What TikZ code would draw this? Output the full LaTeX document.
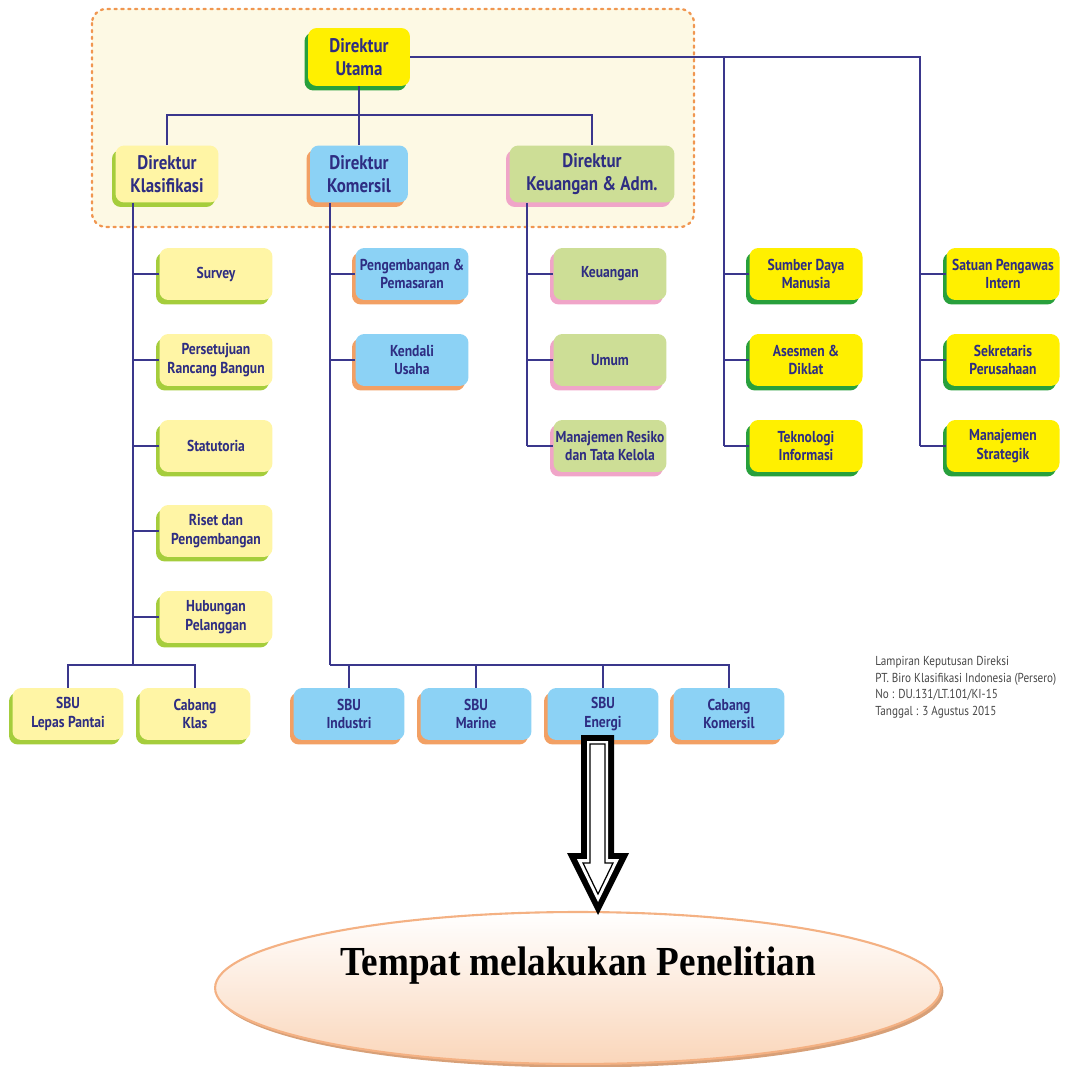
\documentclass[tikz,border=0pt]{standalone}
\usepackage{fontspec}
\setmainfont{Liberation Serif}
\newfontfamily\titlefont[FakeStretch=0.9]{Liberation Serif}
\newfontfamily\boxfont[FakeStretch=0.86]{PT Sans}
\usetikzlibrary{shadows,shapes.geometric}
\definecolor{linec}{RGB}{58,55,140}
\definecolor{txtc}{RGB}{46,45,130}
\definecolor{ybright}{RGB}{255,240,0}
\definecolor{gshadow}{RGB}{40,160,60}
\definecolor{ypale}{RGB}{255,245,165}
\definecolor{lgshadow}{RGB}{165,205,60}
\definecolor{bluec}{RGB}{140,210,245}
\definecolor{oshadow}{RGB}{242,160,100}
\definecolor{olivec}{RGB}{205,222,150}
\definecolor{pshadow}{RGB}{240,165,200}
\definecolor{framefill}{RGB}{253,249,228}
\definecolor{framedot}{RGB}{240,150,80}
\definecolor{ellline}{RGB}{244,177,131}
\definecolor{ellfill}{RGB}{250,214,186}
\definecolor{ellshadow}{RGB}{215,160,120}
\definecolor{notec}{RGB}{70,70,70}
\tikzset{
  box/.style={rounded corners=5pt, align=center, text=txtc, inner sep=1pt,
    font=\boxfont\bfseries\fontsize{9}{10.6}\selectfont},
  sub/.style={box, minimum width=2.26cm, minimum height=1.04cm},
  bot/.style={box, minimum width=2.22cm, minimum height=1.04cm},
  dir/.style={box, minimum height=1.14cm, font=\boxfont\bfseries\fontsize{11.2}{12.8}\selectfont},
  yb/.style={fill=ybright, general shadow={fill=gshadow, shadow xshift=-0.07cm, shadow yshift=-0.09cm}},
  yp/.style={fill=ypale, general shadow={fill=lgshadow, shadow xshift=-0.07cm, shadow yshift=-0.09cm}},
  bl/.style={fill=bluec, general shadow={fill=oshadow, shadow xshift=-0.07cm, shadow yshift=-0.09cm}},
  ol/.style={fill=olivec, general shadow={fill=pshadow, shadow xshift=-0.07cm, shadow yshift=-0.09cm}},
  conn/.style={draw=linec, line width=1.1pt}
}
\begin{document}
\begin{tikzpicture}[x=0.02cm,y=-0.02cm]
\useasboundingbox (0,0) rectangle (1068,1067);
% frame
\draw[fill=framefill, draw=framedot, line width=1.3pt, dash pattern=on 1.3pt off 2.6pt, line cap=round, rounded corners=8pt]
  (92,9) rectangle (694,227);

% directors
\node[dir, yb, minimum width=2.04cm, minimum height=1.16cm] (utama) at (359,57) {Direktur\\Utama};
\node[dir, yp, minimum width=2.06cm] (klas) at (167,174) {Direktur\\Klasifikasi};
\node[dir, bl, minimum width=1.96cm] (kom) at (359,174) {Direktur\\Komersil};
\node[dir, ol, minimum width=3.3cm] (keu) at (592,174) {Direktur\\Keuangan \& Adm.};

% junction coordinates
\coordinate (top) at (359,115);
\coordinate (ka) at (133,665);
\coordinate (kb) at (330,665);
\coordinate (kc) at (527,446);
\coordinate (kd) at (724,446);
\coordinate (ke) at (920,446);

% klasifikasi column
\node[sub, yp] (survey) at (216,274) {Survey};
\node[sub, yp] (rancang) at (216,360) {Persetujuan\\Rancang Bangun};
\node[sub, yp] (statut) at (216,446) {Statutoria};
\node[sub, yp] (riset) at (216,531) {Riset dan\\Pengembangan};
\node[sub, yp] (hub) at (216,617) {Hubungan\\Pelanggan};
\node[bot, yp] (lepas) at (68,714) {SBU\\Lepas Pantai};
\node[bot, yp] (cklas) at (195,714) {Cabang\\Klas};

% komersil column
\node[sub, bl] (pemasaran) at (412,274) {Pengembangan \&\\Pemasaran};
\node[sub, bl] (kendali) at (412,360) {Kendali\\Usaha};
\node[bot, bl] (industri) at (349,714) {SBU\\Industri};
\node[bot, bl] (marine) at (476,714) {SBU\\Marine};
\node[bot, bl] (energi) at (603,714) {SBU\\Energi};
\node[bot, bl] (ckom) at (729,714) {Cabang\\Komersil};

% keuangan column
\node[sub, ol] (keuangan) at (610,274) {Keuangan};
\node[sub, ol] (umum) at (610,360) {Umum};
\node[sub, ol] (resiko) at (610,446) {Manajemen Resiko\\dan Tata Kelola};

% sdm column
\node[sub, yb] (sdm) at (806,274) {Sumber Daya\\Manusia};
\node[sub, yb] (asesmen) at (806,360) {Asesmen \&\\Diklat};
\node[sub, yb] (ti) at (806,446) {Teknologi\\Informasi};

% spi column
\node[sub, yb] (spi) at (1003,274) {Satuan Pengawas\\Intern};
\node[sub, yb] (sekper) at (1003,360) {Sekretaris\\Perusahaan};
\node[sub, yb] (strat) at (1003,446) {Manajemen\\Strategik};

% connectors top
\draw[conn] (utama.south) -- (top);
\draw[conn] (klas.north) |- (top) -| (keu.north);
\draw[conn] (top) -- (kom.north);
\draw[conn] (utama.east) -| (ke);
\draw[conn] (utama.east -| kd) -- (kd);

% klasifikasi
\draw[conn] (klas.south -| ka) -- (ka);
\foreach \n in {survey,rancang,statut,riset,hub}
  \draw[conn] (\n.west -| ka) -- (\n.west);
\draw[conn] (lepas.north) |- (ka) -| (cklas.north);

% komersil
\draw[conn] (kom.south -| kb) -- (kb);
\foreach \n in {pemasaran,kendali}
  \draw[conn] (\n.west -| kb) -- (\n.west);
\draw[conn] (kb) -| (ckom.north);
\foreach \n in {industri,marine,energi}
  \draw[conn] (\n.north) -- (\n.north |- kb);

% keuangan
\draw[conn] (keu.south -| kc) -- (kc);
\foreach \n in {keuangan,umum,resiko}
  \draw[conn] (\n.west -| kc) -- (\n.west);
% sdm
\foreach \n in {sdm,asesmen,ti}
  \draw[conn] (\n.west -| kd) -- (\n.west);
% spi
\foreach \n in {spi,sekper,strat}
  \draw[conn] (\n.west -| ke) -- (\n.west);

% note
\node[anchor=north west, align=left, text=notec, inner sep=0pt,
  font=\boxfont\fontsize{7.4}{9.4}\selectfont] (note) at (875,656)
  {Lampiran Keputusan Direksi\\PT. Biro Klasifikasi Indonesia (Persero)\\No : DU.131/LT.101/KI-15\\Tanggal : 3 Agustus 2015};

% ellipse
\node[ellipse, draw=ellline, line width=1.2pt, top color=white, bottom color=ellfill,
  minimum width=14.52cm, minimum height=3.04cm,
  general shadow={fill=ellshadow, shadow xshift=0.05cm, shadow yshift=-0.07cm}] (place) at (578,988) {};
\node[font=\titlefont\bfseries\fontsize{23.5}{26}\selectfont, text=black] (placetext) at (578,966) {Tempat melakukan Penelitian};

% big arrow
\fill[black] (581,735) -- (614,735) -- (614,853) -- (629,853) -- (598,915) -- (567,853) -- (581,853) -- cycle;
\fill[white] (587,741) -- (608,741) -- (608,859) -- (619,859) -- (598,902) -- (577,859) -- (587,859) -- cycle;
\draw[black, fill=white, line width=0.7pt] (590,744) -- (605,744) -- (605,863) -- (613,863) -- (598,894) -- (583,863) -- (590,863) -- cycle;
\end{tikzpicture}
\end{document}
